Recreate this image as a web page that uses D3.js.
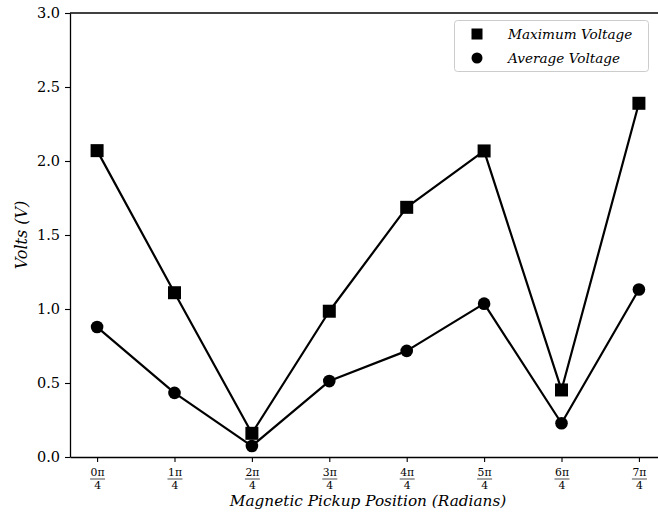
<!DOCTYPE html>
<html>
<head>
<meta charset="utf-8">
<script src="https://cdn.jsdelivr.net/npm/d3@7"></script>
<style>
  body { margin: 0; background: #fff; }
  svg { display: block; }
</style>
</head>
<body>
<svg id="chart" width="658" height="517"></svg>
<script>
// Pickup positions in multiples of pi/4
const positions = [0, 1, 2, 3, 4, 5, 6, 7];
const maxVoltage = [2.07, 1.11, 0.16, 0.985, 1.687, 2.068, 0.453, 2.39];
const avgVoltage = [0.878, 0.433, 0.074, 0.513, 0.717, 1.036, 0.228, 1.132];
const yTicks = [0, 0.5, 1.0, 1.5, 2.0, 2.5, 3.0];
const seriesNames = ["Maximum Voltage", "Average Voltage"];

const serif = "'DejaVu Serif', serif";
const svg = d3.select("#chart").attr("font-family", serif);
const plotLeft = 70, plotTop = 13, plotBottom = 457, plotRight = 666;

const x = d3.scaleLinear().domain([-0.35, 7.35]).range([plotLeft, plotRight]);
const y = d3.scaleLinear().domain([0, 3]).range([plotBottom, plotTop]);

// Axes
const yAxis = d3.axisLeft(y).tickValues(yTicks).tickFormat(d3.format(".1f")).tickSize(5).tickSizeOuter(0).tickPadding(5);
const gy = svg.append("g").attr("transform", `translate(${plotLeft},0)`).call(yAxis)
  .attr("font-family", serif);
gy.select(".domain").attr("stroke", "#000").attr("stroke-width", 1.3);
gy.selectAll("line").attr("stroke-width", 1.1);
gy.selectAll("text").attr("font-size", 14.5).attr("fill", "#000").attr("dy", "0.34em");

const xAxis = d3.axisBottom(x).tickValues(positions).tickFormat("").tickSize(5).tickSizeOuter(0);
const gx = svg.append("g").attr("transform", `translate(0,${plotBottom})`).call(xAxis)
  .attr("font-family", serif);
gx.select(".domain").attr("stroke", "#000").attr("stroke-width", 1.3);
gx.selectAll("line").attr("stroke-width", 1.1);

// Fraction tick labels: nπ over 4
const fr = gx.selectAll(".tick").append("g");
fr.append("text").attr("y", 18.8).attr("text-anchor", "middle").attr("font-size", 10.8).attr("fill", "#000")
  .text(d => d + "π");
fr.append("line").attr("x1", -7.5).attr("x2", 7.5).attr("y1", 22).attr("y2", 22)
  .attr("stroke", "#000").attr("stroke-width", 0.7);
fr.append("text").attr("y", 32).attr("text-anchor", "middle").attr("font-size", 10.8).attr("fill", "#000")
  .text("4");

// Top and right spines
svg.append("line").attr("x1", plotLeft).attr("x2", plotRight).attr("y1", plotTop).attr("y2", plotTop)
  .attr("stroke", "#000").attr("stroke-width", 1.3);
svg.append("line").attr("x1", plotRight).attr("x2", plotRight).attr("y1", plotTop).attr("y2", plotBottom)
  .attr("stroke", "#000").attr("stroke-width", 1.3);

// Axis titles
svg.append("text").attr("x", 368).attr("y", 506).attr("text-anchor", "middle")
  .attr("font-size", 15.3).attr("font-style", "italic")
  .text("Magnetic Pickup Position (Radians)");
svg.append("text").attr("transform", "translate(27,235) rotate(-90)").attr("text-anchor", "middle")
  .attr("font-size", 16).attr("font-style", "italic")
  .text("Volts (V)");

// Lines
const line = d3.line().x((d, i) => x(positions[i])).y(d => y(d));
[maxVoltage, avgVoltage].forEach(vals => {
  svg.append("path").attr("d", line(vals)).attr("fill", "none")
    .attr("stroke", "#000").attr("stroke-width", 2.2).attr("stroke-linejoin", "round");
});

// Markers
const sq = 13;
svg.append("g").selectAll("rect").data(maxVoltage).join("rect")
  .attr("x", (d, i) => x(positions[i]) - sq / 2).attr("y", d => y(d) - sq / 2)
  .attr("width", sq).attr("height", sq).attr("fill", "#000");
svg.append("g").selectAll("circle").data(avgVoltage).join("circle")
  .attr("cx", (d, i) => x(positions[i])).attr("cy", d => y(d)).attr("r", 6.3).attr("fill", "#000");

// Legend
const lg = svg.append("g");
lg.append("rect").attr("x", 454.5).attr("y", 20.5).attr("width", 194).attr("height", 51).attr("rx", 3)
  .attr("fill", "#fff").attr("fill-opacity", 0.8).attr("stroke", "#ccc").attr("stroke-width", 1);
lg.append("rect").attr("x", 477 - 5.5).attr("y", 34 - 5.5).attr("width", 11).attr("height", 11).attr("fill", "#000");
lg.append("circle").attr("cx", 477).attr("cy", 58).attr("r", 5.5).attr("fill", "#000");
lg.selectAll("text.lab").data(seriesNames).join("text").attr("class", "lab")
  .attr("x", 508).attr("y", (d, i) => 39 + i * 24)
  .attr("font-size", 13.6).attr("font-style", "italic").text(d => d);
</script>
</body>
</html>
